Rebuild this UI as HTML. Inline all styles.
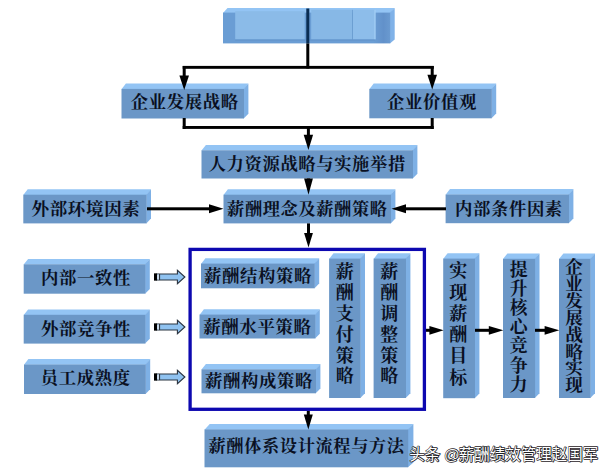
<!DOCTYPE html>
<html lang="zh-CN">
<head>
<meta charset="utf-8">
<title>薪酬体系设计流程图</title>
<style>
html,body{margin:0;padding:0;background:#fff}
body{width:612px;height:475px;overflow:hidden;font-family:"Liberation Sans",sans-serif}
svg{display:block}
</style>
</head>
<body>
<svg width="612" height="475" viewBox="0 0 612 475" role="img" aria-label="薪酬体系设计流程图">
<defs>
<linearGradient id="gtop" x1="0" y1="0" x2="1" y2="0"><stop offset="0" stop-color="#6a9dd4"/><stop offset=".9" stop-color="#6a9dd4"/><stop offset=".96" stop-color="#6291ca"/><stop offset="1" stop-color="#6a9ad0"/></linearGradient>
</defs>
<rect width="612" height="475" fill="#fff"/>
<g id="boxes">
<path d="M223.0 12.9L227.5 8.0H394.7L390.2 12.9Z" fill="#93c4f4"/>
<path d="M389.9 12.6L394.7 8.0V39.599999999999994L389.9 43.4Z" fill="#80b2e8"/>
<rect x="223.0" y="12.6" width="167.2" height="30.799999999999997" fill="url(#gtop)"/>
<rect x="235.2" y="11.2" width="69.5" height="28.2" fill="#8bbbe8"/>
<rect x="311.2" y="9.8" width="40.8" height="29.6" fill="#87b8e6"/>
<rect x="352.8" y="9.8" width="22.4" height="29.6" fill="#8dbdea"/>
<rect x="374.4" y="9.8" width="1.2" height="29.6" fill="#a5d0f6"/>
<rect x="352" y="9.8" width=".9" height="29.6" fill="#6d9fd2"/>
<rect x="235.2" y="39.4" width="140" height="1.3" fill="#5f90c6" opacity=".6"/>
<path d="M121.5 89.2L125.9 83.5H248.4L244 89.2Z" fill="#93c4f4"/>
<path d="M243.7 88.9L248.4 83.5V113.7L243.7 118.5Z" fill="#7eb0e5"/>
<rect x="121.5" y="88.9" width="122.5" height="29.6" fill="#6b97c7"/>
<path d="M369.3 89.2L373.7 83.5H496.2L491.8 89.2Z" fill="#93c4f4"/>
<path d="M491.5 88.9L496.2 83.5V113.5L491.5 118.3Z" fill="#7eb0e5"/>
<rect x="369.3" y="88.9" width="122.5" height="29.4" fill="#6b97c7"/>
<path d="M201.5 150.6L205.9 144.9H417.4L413 150.6Z" fill="#93c4f4"/>
<path d="M412.7 150.3L417.4 144.9V173.7L412.7 178.5Z" fill="#7eb0e5"/>
<rect x="201.5" y="150.3" width="211.5" height="28.2" fill="#6b97c7"/>
<path d="M23.3 195L27.7 189.3H151L146.6 195Z" fill="#93c4f4"/>
<path d="M146.3 194.7L151 189.3V218.6L146.3 223.4Z" fill="#7eb0e5"/>
<rect x="23.3" y="194.7" width="123.3" height="28.7" fill="#6b97c7"/>
<path d="M223.5 195L227.9 189.3H395.4L391 195Z" fill="#93c4f4"/>
<path d="M390.7 194.7L395.4 189.3V218.6L390.7 223.4Z" fill="#7eb0e5"/>
<rect x="223.5" y="194.7" width="167.5" height="28.7" fill="#6b97c7"/>
<path d="M445.6 194.8L450 189.1H573.4L569 194.8Z" fill="#93c4f4"/>
<path d="M568.7 194.5L573.4 189.1V218.4L568.7 223.2Z" fill="#7eb0e5"/>
<rect x="445.6" y="194.5" width="123.4" height="28.7" fill="#6b97c7"/>
<path d="M23.7 264.6L28.1 258.9H149.8L145.4 264.6Z" fill="#93c4f4"/>
<path d="M145.1 264.3L149.8 258.9V288.9L145.1 293.7Z" fill="#7eb0e5"/>
<rect x="23.7" y="264.3" width="121.7" height="29.4" fill="#6b97c7"/>
<path d="M23.7 315.1L28.1 309.4H149.8L145.4 315.1Z" fill="#93c4f4"/>
<path d="M145.1 314.8L149.8 309.4V338.8L145.1 343.6Z" fill="#7eb0e5"/>
<rect x="23.7" y="314.8" width="121.7" height="28.8" fill="#6b97c7"/>
<path d="M24 364.8L28.4 359.1H150.2L145.8 364.8Z" fill="#93c4f4"/>
<path d="M145.5 364.5L150.2 359.1V389.2L145.5 394Z" fill="#7eb0e5"/>
<rect x="24" y="364.5" width="121.8" height="29.5" fill="#6b97c7"/>
<path d="M201 263.9L205.4 258.2H319.2L314.8 263.9Z" fill="#93c4f4"/>
<path d="M314.5 263.6L319.2 258.2V283.5L314.5 288.3Z" fill="#7eb0e5"/>
<rect x="201" y="263.6" width="113.8" height="24.7" fill="#6b97c7"/>
<path d="M199.5 314.9L203.9 309.2H319.8L315.4 314.9Z" fill="#93c4f4"/>
<path d="M315.1 314.6L319.8 309.2V333.7L315.1 338.5Z" fill="#7eb0e5"/>
<rect x="199.5" y="314.6" width="115.9" height="23.9" fill="#6b97c7"/>
<path d="M201.5 369.6L205.9 363.9H320.4L316 369.6Z" fill="#93c4f4"/>
<path d="M315.7 369.3L320.4 363.9V388.5L315.7 393.3Z" fill="#7eb0e5"/>
<rect x="201.5" y="369.3" width="114.5" height="24" fill="#6b97c7"/>
<path d="M329.1 258.9L333.5 253.2H365L360.6 258.9Z" fill="#93c4f4"/>
<path d="M360.3 258.6L365 253.2V393.2L360.3 398Z" fill="#7eb0e5"/>
<rect x="329.1" y="258.6" width="31.5" height="139.4" fill="#6b97c7"/>
<path d="M373.6 258.9L378 253.2H410.4L406 258.9Z" fill="#93c4f4"/>
<path d="M405.7 258.6L410.4 253.2V393.2L405.7 398Z" fill="#7eb0e5"/>
<rect x="373.6" y="258.6" width="32.4" height="139.4" fill="#6b97c7"/>
<path d="M443.2 258.9L447.6 253.2H479.4L475 258.9Z" fill="#93c4f4"/>
<path d="M474.7 258.6L479.4 253.2V393.4L474.7 398.2Z" fill="#7eb0e5"/>
<rect x="443.2" y="258.6" width="31.8" height="139.6" fill="#6b97c7"/>
<path d="M503 259.1L507.4 253.4H539.5L535.1 259.1Z" fill="#93c4f4"/>
<path d="M534.8 258.8L539.5 253.4V393.2L534.8 398Z" fill="#7eb0e5"/>
<rect x="503" y="258.8" width="32.1" height="139.2" fill="#6b97c7"/>
<path d="M559 259.1L563.4 253.4H595L590.6 259.1Z" fill="#93c4f4"/>
<path d="M590.3 258.8L595 253.4V393.2L590.3 398Z" fill="#7eb0e5"/>
<rect x="559" y="258.8" width="31.6" height="139.2" fill="#6b97c7"/>
<path d="M204.5 429.7L209.7 423.9H413.4L408.2 429.7Z" fill="#93c4f4"/>
<path d="M407.9 429.4L413.4 423.9V462.4L407.9 467.3Z" fill="#7eb0e5"/>
<rect x="204.5" y="429.4" width="203.7" height="37.9" fill="#6b97c7"/>
</g>
<g id="connectors" fill="#000">
<rect x="306.3" y="8.5" width="3" height="35" fill="#0a2d52"/>
<rect x="306.3" y="43.5" width="3" height="25"/>
<rect x="182.7" y="65.9" width="251.1" height="2.9"/>
<rect x="182.7" y="66" width="3.0" height="10.4"/>
<path d="M179.4 75.4H189L184.2 90Z"/>
<rect x="430.7" y="66" width="3.0" height="9.7"/>
<path d="M427.4 74.7H437L432.2 89.5Z"/>
<rect x="182.7" y="118" width="3" height="11"/>
<rect x="430.7" y="118" width="3" height="11"/>
<rect x="182.7" y="126" width="251" height="2.9"/>
<rect x="306.9" y="127" width="3.0" height="8.8"/>
<path d="M303.7 134.8H313.1L308.4 150Z"/>
<rect x="307" y="178.5" width="3.0" height="1"/>
<path d="M304.1 178.5H312.9L308.5 194.8Z"/>
<rect x="147" y="207.3" width="63" height="3.0"/>
<path d="M209 204.3V213.3L223.5 208.8Z"/>
<rect x="405" y="207.3" width="41" height="3.0"/>
<path d="M406 204.3V213.3L391.5 208.8Z"/>
<rect x="307" y="223.4" width="3.0" height="10.6"/>
<path d="M304.1 233H312.9L308.5 247.6Z"/>
<rect x="425.5" y="328.8" width="4.9" height="3.0"/>
<path d="M429.4 325.9V334.7L443.6 330.3Z"/>
<rect x="475" y="328.8" width="14.8" height="3.0"/>
<path d="M488.8 325.9V334.7L503.3 330.3Z"/>
<rect x="535" y="328.8" width="10.6" height="3.0"/>
<path d="M544.6 325.9V334.7L559.3 330.3Z"/>
<rect x="306.8" y="411" width="3.0" height="4.6"/>
<path d="M303.8 414.6H312.8L308.3 429.6Z"/>
<path d="M157.0 273.95H177.4V270.3L184.9 277.0L177.4 283.7V280.05H157.0Z" fill="#8fc2f0" stroke="#2a3440" stroke-width="1.1"/>
<rect x="154.0" y="273.35" width="3" height="7.3"/>
<rect x="157.0" y="274.45" width="2" height="5.1" fill="#c8d9ea"/>
<rect x="159.0" y="273.95" width="1.1" height="6.1" fill="#2a3440"/>
<path d="M157.0 323.95H177.4V320.3L184.9 327.0L177.4 333.7V330.05H157.0Z" fill="#8fc2f0" stroke="#2a3440" stroke-width="1.1"/>
<rect x="154.0" y="323.35" width="3" height="7.3"/>
<rect x="157.0" y="324.45" width="2" height="5.1" fill="#c8d9ea"/>
<rect x="159.0" y="323.95" width="1.1" height="6.1" fill="#2a3440"/>
<path d="M157.0 373.95H177.4V370.3L184.9 377.0L177.4 383.7V380.05H157.0Z" fill="#8fc2f0" stroke="#2a3440" stroke-width="1.1"/>
<rect x="154.0" y="373.35" width="3" height="7.3"/>
<rect x="157.0" y="374.45" width="2" height="5.1" fill="#c8d9ea"/>
<rect x="159.0" y="373.95" width="1.1" height="6.1" fill="#2a3440"/>
<rect x="190.1" y="249.4" width="234.3" height="159.9" fill="none" stroke="#0d08b0" stroke-width="3.3"/>
</g>
<g id="labels" fill="#0a1022" font-family="'Liberation Serif','Noto Serif CJK SC',serif" font-weight="bold">
<text font-size="17.4" y="108.37" x="130.68 148.69 166.71 184.72 202.73 220.74">企业发展战略</text>
<text font-size="17.4" y="108.22" x="386.98 405 423.01 441.02 459.03">企业价值观</text>
<text font-size="17.3" y="170.19" x="208.69 226.61 244.53 262.46 280.38 298.3 316.23 334.15 352.07 369.99 387.92">人力资源战略与实施举措</text>
<text font-size="17.5" y="214.92" x="31.58 49.73 67.87 86.02 104.16 122.31">外部环境因素</text>
<text font-size="17.2" y="214.55" x="227.09 244.92 262.74 280.57 298.4 316.23 334.05 351.88 369.71">薪酬理念及薪酬策略</text>
<text font-size="17.35" y="214.71" x="454.99 472.96 490.94 508.91 526.89 544.87">内部条件因素</text>
<text font-size="17.36" y="284.31" x="41.09 59.08 77.07 95.06 113.05">内部一致性</text>
<text font-size="17.36" y="334.96" x="41.09 59.08 77.07 95.06 113.05">外部竞争性</text>
<text font-size="17.34" y="384.3" x="40.79 58.76 76.73 94.7 112.67">员工成熟度</text>
<text font-size="17.38" y="281.57" x="203.98 221.99 240.01 258.02 276.03 294.04">薪酬结构策略</text>
<text font-size="17.44" y="333.09" x="203.18 221.26 239.34 257.42 275.49 293.57">薪酬水平策略</text>
<text font-size="17.36" y="387.31" x="204.99 222.98 240.97 258.96 276.96 294.95">薪酬构成策略</text>
<text font-size="18" x="335.66 335.66 335.66 335.66 335.66 335.66" y="278.22 299.06 319.9 340.74 361.58 382.42">薪酬支付策略</text>
<text font-size="18" x="380.26 380.26 380.26 380.26 380.26 380.26" y="278.22 299.06 319.9 340.74 361.58 382.42">薪酬调整策略</text>
<text font-size="18" x="449.26 449.26 449.26 449.26 449.26 449.26" y="277.22 298.5 319.78 341.06 362.34 383.62">实现薪酬目标</text>
<text font-size="17.8" x="509.66 509.66 509.66 509.66 509.66 509.66 509.66" y="275.6 294.78 313.96 333.15 352.33 371.51 390.7">提升核心竞争力</text>
<text font-size="17.6" x="565.3 565.3 565.3 565.3 565.3 565.3 565.3 565.3" y="272.64 289.61 306.58 323.55 340.53 357.5 374.47 391.44">企业发展战略实现</text>
<text font-size="17.2" y="452.3" x="208.49 226.32 244.15 261.98 279.81 297.65 315.48 333.31 351.14 368.97 386.8">薪酬体系设计流程与方法</text>
</g>
<g id="watermark" font-family="'Liberation Sans','Noto Sans CJK SC',sans-serif" font-size="15.5">
<text transform="translate(.3 .4)" fill="#1e2024" stroke="#1e2024" stroke-width="1.43" stroke-linejoin="round" y="460.1" x="409.3 424.8 440.3 444.02 458.68 474.18 489.68 505.18 520.68 536.18 551.68 567.18 582.68">头条 @薪酬绩效管理赵国军</text>
<text fill="#fff" y="460.1" x="409.3 424.8 440.3 444.02 458.68 474.18 489.68 505.18 520.68 536.18 551.68 567.18 582.68">头条 @薪酬绩效管理赵国军</text>
</g>
</svg>
</body>
</html>
